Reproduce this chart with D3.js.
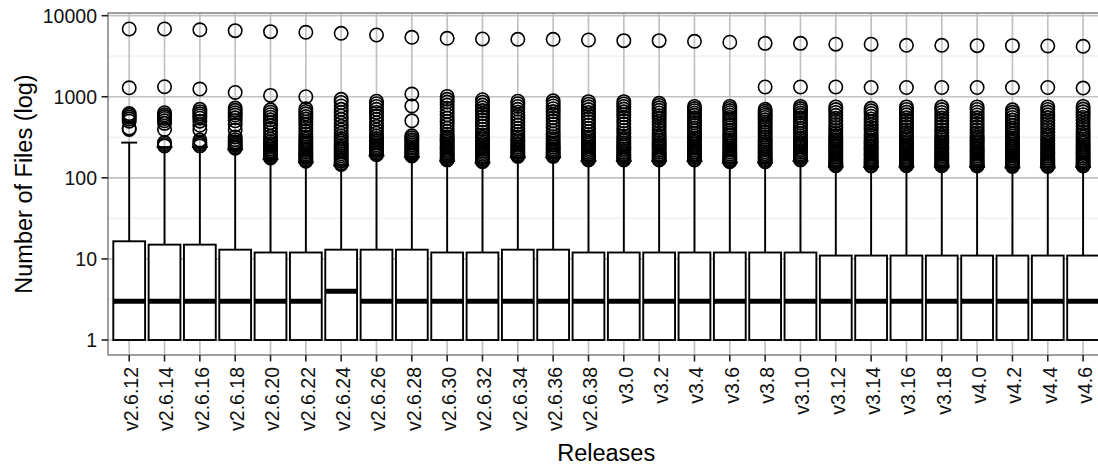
<!DOCTYPE html>
<html>
<head>
<meta charset="utf-8">
<script src="https://cdn.jsdelivr.net/npm/d3@7"></script>
<style>
  html, body { margin: 0; padding: 0; background: #fff; }
  svg { display: block; }
  text { font-family: "Liberation Sans", Arial, Helvetica, sans-serif; }
</style>
</head>
<body>
<svg id="chart" width="1098" height="466"></svg>
<script>
// Releases on the x axis
const releases = ["v2.6.12","v2.6.14","v2.6.16","v2.6.18","v2.6.20","v2.6.22","v2.6.24",
  "v2.6.26","v2.6.28","v2.6.30","v2.6.32","v2.6.34","v2.6.36","v2.6.38",
  "v3.0","v3.2","v3.4","v3.6","v3.8","v3.10","v3.12","v3.14","v3.16","v3.18",
  "v4.0","v4.2","v4.4","v4.6"];

// Box statistics (number of files per entry)
const lowerHinge = [1,1,1,1,1,1,1,1,1,1,1,1,1,1,1,1,1,1,1,1,1,1,1,1,1,1,1,1];
const medians    = [3,3,3,3,3,3,4,3,3,3,3,3,3,3,3,3,3,3,3,3,3,3,3,3,3,3,3,3];
const upperHinge = [16.5,15,15,13,12,12,13,13,13,12,12,13,13,12,12,12,12,12,12,12,11,11,11,11,11,11,11,11];
const lowerWhisker = [1,1,1,1,1,1,1,1,1,1,1,1,1,1,1,1,1,1,1,1,1,1,1,1,1,1,1,1];
const upperWhisker = [272,240,240,225,170,155,142,188,180,161,154,179,179,161,161,161,161,154,154,161,137,136,137,137,136,134,134,136];

// Outlying values per release
const outliers = [
  [6850,1290,620,590,560,530,500,410,395],
  [6850,1330,635,600,570,540,505,470,395,272,258,247],
  [6700,1245,700,655,615,580,545,500,445,390,292,274,260,248],
  [6540,1130,725,680,635,595,550,505,450,390,320,296,278,264,252,241,232],
  [6350,1040,690,645,600,560,520,480,440,400,360,325,300,280,264,250,238,226,215,205,196,188,181,176],
  [6240,1000,710,660,615,570,530,490,450,410,375,345,320,300,283,268,254,241,229,218,207,197,188,180,172,165,160],
  [6060,930,850,770,700,640,580,525,475,430,390,355,328,305,285,267,251,236,222,210,198,187,177,168,160,152,146],
  [5780,880,820,760,700,640,580,525,475,430,390,355,328,305,286,270,256,243,231,220,210,201,193],
  [5410,1080,770,505,330,312,296,281,267,254,242,231,220,210,201,193,186],
  [5260,1010,930,860,790,720,660,600,545,495,450,410,375,345,322,304,288,273,259,246,234,223,212,202,193,184,176,169,166],
  [5160,920,855,790,730,675,620,570,520,475,435,398,365,338,316,298,281,266,252,239,227,216,205,195,186,177,169,162,158],
  [5110,880,820,760,700,645,590,540,492,448,408,372,342,318,298,281,266,252,239,227,216,206,197,189,184],
  [5110,890,830,770,712,656,602,552,505,460,418,380,348,322,301,283,267,253,240,228,217,207,198,190,184],
  [5010,870,810,752,695,640,588,538,492,448,408,372,342,318,299,282,267,253,240,228,217,206,196,187,179,172,166],
  [4920,870,815,760,705,652,600,550,503,460,420,384,352,326,305,287,271,256,242,229,217,206,196,187,179,172,166],
  [4920,830,780,730,680,632,585,540,497,457,420,386,355,330,309,290,273,257,243,230,218,207,197,188,180,172,166],
  [4830,760,715,672,630,590,550,512,476,442,410,380,352,328,308,290,274,259,245,232,220,209,199,189,180,172,166],
  [4700,760,718,676,635,595,556,518,482,448,415,385,357,332,311,292,275,259,245,232,220,208,197,187,178,170,163,158],
  [4560,1320,700,662,625,590,555,520,487,455,424,395,367,341,318,298,280,264,249,235,222,210,199,189,180,172,164,158],
  [4560,1320,760,715,672,630,590,550,512,476,442,410,380,352,328,307,289,272,257,243,230,218,207,197,188,180,172,166],
  [4450,1320,750,695,640,590,542,498,456,418,384,354,330,311,294,279,265,252,240,229,218,208,198,189,180,172,164,157,150,145,141],
  [4450,1300,720,670,622,576,532,491,452,416,383,354,330,310,293,278,264,251,239,228,217,207,197,188,179,171,163,156,150,144,140],
  [4310,1300,750,698,646,598,551,507,466,428,393,362,336,315,297,281,266,253,241,229,218,207,197,188,179,171,163,156,150,145,141],
  [4310,1300,750,694,641,592,546,503,462,424,390,360,334,313,295,279,265,252,240,228,217,206,196,187,178,170,162,155,149,144,141],
  [4270,1300,750,696,645,596,550,506,465,427,392,361,335,314,296,280,265,252,239,227,216,205,195,186,177,169,161,154,148,143,140],
  [4270,1300,690,643,598,556,516,478,442,408,377,349,326,307,290,275,261,248,236,224,213,203,193,184,175,167,160,153,147,142,138],
  [4230,1300,750,697,647,599,553,509,468,430,395,363,337,316,298,281,266,252,239,227,215,204,194,184,175,167,159,152,146,141,138],
  [4190,1280,760,705,652,602,555,511,470,432,397,366,340,318,299,282,267,253,240,227,215,204,194,184,175,166,158,151,145,140]
];

// Axis ticks
const yTickValues = [1, 10, 100, 1000, 10000];
const yTickLabels = ["1", "10", "100", "1000", "10000"];
const xTitle = "Releases";
const yTitle = "Number of Files (log)";

// Panel geometry
const panel = { left: 108, top: 13, bottom: 355, width: 996.3 };
const svg = d3.select("#chart");

const x = d3.scalePoint()
  .domain(releases)
  .range([panel.left, panel.left + panel.width])
  .padding(0.6);
const step = x.step();
const boxW = step * 0.9;
const capW = step * 0.45;

const y = d3.scaleLog()
  .domain([Math.pow(10, -0.185), Math.pow(10, 4.033)])
  .range([panel.bottom, panel.top]);

// Minor breaks sit halfway between major decades in log space
const yMinor = d3.pairs(yTickValues).map(([a, b]) => Math.sqrt(a * b));

const g = svg.append("g");

// Panel background
g.append("rect")
  .attr("x", panel.left).attr("y", panel.top)
  .attr("width", panel.width).attr("height", panel.bottom - panel.top)
  .attr("fill", "#fff");

// Grid lines
g.append("g").selectAll("line").data(yMinor).join("line")
  .attr("x1", panel.left).attr("x2", panel.left + panel.width)
  .attr("y1", d => y(d)).attr("y2", d => y(d))
  .attr("stroke", "#f2f2f2").attr("stroke-width", 1.7);

g.append("g").selectAll("line").data(yTickValues).join("line")
  .attr("x1", panel.left).attr("x2", panel.left + panel.width)
  .attr("y1", d => y(d)).attr("y2", d => y(d))
  .attr("stroke", "#c2c2c2").attr("stroke-width", 1.7);

g.append("g").selectAll("line").data(releases).join("line")
  .attr("x1", d => x(d)).attr("x2", d => x(d))
  .attr("y1", panel.top).attr("y2", panel.bottom)
  .attr("stroke", "#c2c2c2").attr("stroke-width", 1.7);

// Boxplots
const stats = releases.map((r, i) => ({
  release: r,
  q1: lowerHinge[i], med: medians[i], q3: upperHinge[i],
  lo: lowerWhisker[i], hi: upperWhisker[i], out: outliers[i]
}));

const boxes = g.append("g").selectAll("g").data(stats).join("g");

// outlier circles
boxes.selectAll("circle").data(d => d.out.map(v => ({ release: d.release, v })))
  .join("circle")
  .attr("cx", d => x(d.release))
  .attr("cy", d => y(d.v))
  .attr("r", 6.7)
  .attr("fill", "none")
  .attr("stroke", "#000")
  .attr("stroke-width", 1.6);

// whiskers
boxes.append("line")
  .attr("x1", d => x(d.release)).attr("x2", d => x(d.release))
  .attr("y1", d => y(d.q3)).attr("y2", d => y(d.hi))
  .attr("stroke", "#000").attr("stroke-width", 1.9);
boxes.append("line")
  .attr("x1", d => x(d.release) - capW / 2).attr("x2", d => x(d.release) + capW / 2)
  .attr("y1", d => y(d.hi)).attr("y2", d => y(d.hi))
  .attr("stroke", "#000").attr("stroke-width", 1.9);
boxes.append("line")
  .attr("x1", d => x(d.release)).attr("x2", d => x(d.release))
  .attr("y1", d => y(d.q1)).attr("y2", d => y(d.lo))
  .attr("stroke", "#000").attr("stroke-width", 1.9);

// box body
boxes.append("rect")
  .attr("x", d => x(d.release) - boxW / 2)
  .attr("y", d => y(d.q3))
  .attr("width", boxW)
  .attr("height", d => y(d.q1) - y(d.q3))
  .attr("fill", "#fff")
  .attr("stroke", "#000")
  .attr("stroke-width", 1.9);

// median
boxes.append("line")
  .attr("x1", d => x(d.release) - boxW / 2).attr("x2", d => x(d.release) + boxW / 2)
  .attr("y1", d => y(d.med)).attr("y2", d => y(d.med))
  .attr("stroke", "#000").attr("stroke-width", 5);

// Panel border
g.append("rect")
  .attr("x", panel.left).attr("y", panel.top)
  .attr("width", panel.width).attr("height", panel.bottom - panel.top)
  .attr("fill", "none")
  .attr("stroke", "#808080").attr("stroke-width", 1.5);

// Y axis
const yAxis = g.append("g");
yAxis.selectAll("line").data(yTickValues).join("line")
  .attr("x1", panel.left - 6.5).attr("x2", panel.left)
  .attr("y1", d => y(d)).attr("y2", d => y(d))
  .attr("stroke", "#222").attr("stroke-width", 1.6);
yAxis.selectAll("text").data(yTickValues).join("text")
  .attr("x", panel.left - 11)
  .attr("y", d => y(d))
  .attr("dy", "0.36em")
  .attr("text-anchor", "end")
  .attr("font-size", 19.5)
  .attr("fill", "#111")
  .text((d, i) => yTickLabels[i]);

// X axis
const xAxis = g.append("g");
xAxis.selectAll("line").data(releases).join("line")
  .attr("x1", d => x(d)).attr("x2", d => x(d))
  .attr("y1", panel.bottom).attr("y2", panel.bottom + 6.5)
  .attr("stroke", "#222").attr("stroke-width", 1.6);
xAxis.selectAll("text").data(releases).join("text")
  .attr("transform", d => `translate(${x(d)},${panel.bottom + 12}) rotate(-90)`)
  .attr("dy", "0.45em")
  .attr("text-anchor", "end")
  .attr("font-size", 19.5)
  .attr("fill", "#111")
  .text(d => d);

// Axis titles
svg.append("text")
  .attr("x", panel.left + panel.width / 2)
  .attr("y", 461)
  .attr("text-anchor", "middle")
  .attr("font-size", 23.5)
  .attr("fill", "#000")
  .text(xTitle);

svg.append("text")
  .attr("transform", `translate(31.5,${(panel.top + panel.bottom) / 2}) rotate(-90)`)
  .attr("text-anchor", "middle")
  .attr("font-size", 23.5)
  .attr("fill", "#000")
  .text(yTitle);
</script>
</body>
</html>
